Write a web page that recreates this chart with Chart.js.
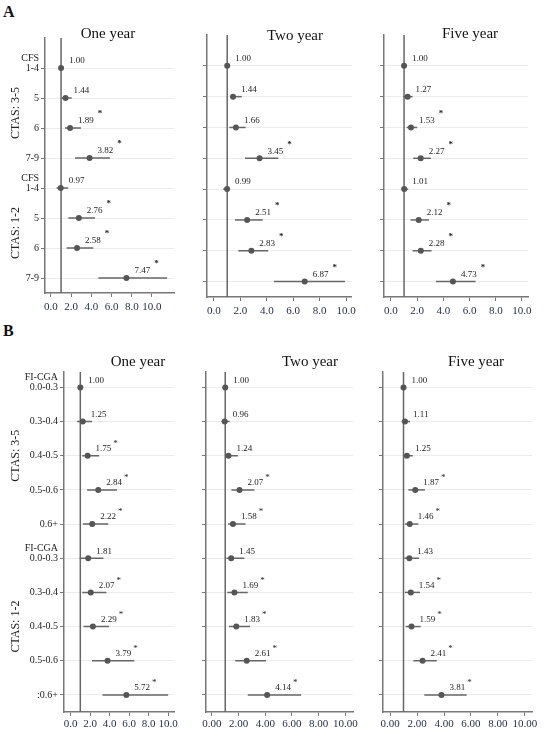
<!DOCTYPE html>
<html>
<head>
<meta charset="utf-8">
<script src="https://cdn.jsdelivr.net/npm/chart.js@4.4.1/dist/chart.umd.min.js"></script>
<style>
body { margin: 0; background: #fff; }
#wrap { position: relative; width: 554px; height: 749px; overflow: hidden; font-family: "Liberation Serif", "Times New Roman", serif; }
canvas { position: absolute; }
.tag { position: absolute; font-weight: bold; font-size: 16px; color: #111; }
</style>
</head>
<body>
<div id="wrap">
  <div class="tag" style="left:3px;top:3px">A</div>
  <div class="tag" style="left:3px;top:322px">B</div>
</div>
<script>
// row labels
const cfsLabels = ["1-4", "5", "6", "7-9", "1-4", "5", "6", "7-9"];
const cfsHeads = ["CFS", "", "", "", "CFS", "", "", ""];
const fiLabels = ["0.0-0.3", "0.3-0.4", "0.4-0.5", "0.5-0.6", "0.6+", "0.0-0.3", "0.3-0.4", "0.4-0.5", "0.5-0.6", ":0.6+"];
const fiHeads = ["FI-CGA", "", "", "", "", "FI-CGA", "", "", "", ""];
const groupNames = ["CTAS: 3-5", "CTAS: 1-2"];
const cfsGroupRows = [[0, 3], [4, 7]];
const fiGroupRows = [[0, 4], [5, 9]];
const periods = ["One year", "Two year", "Five year"];
const xTicks = [0, 2, 4, 6, 8, 10];

// A: CFS, odds ratios with 95% CI
const cfs1Or = [1.00, 1.44, 1.89, 3.82, 0.97, 2.76, 2.58, 7.47];
const cfs1Lo = [1.00, 1.06, 1.39, 2.38, 0.56, 1.72, 1.55, 4.69];
const cfs1Hi = [1.00, 2.05, 2.97, 5.84, 1.71, 4.36, 4.19, 11.50];
const cfs1Sig = [0, 0, 1, 1, 0, 1, 1, 1];

const cfs2Or = [1.00, 1.44, 1.66, 3.45, 0.99, 2.51, 2.83, 6.87];
const cfs2Lo = [1.00, 1.21, 1.16, 2.35, 0.70, 1.59, 1.84, 4.55];
const cfs2Hi = [1.00, 2.10, 2.40, 4.87, 1.21, 3.69, 4.11, 9.92];
const cfs2Sig = [0, 0, 0, 1, 0, 1, 1, 1];

const cfs5Or = [1.00, 1.27, 1.53, 2.27, 1.01, 2.12, 2.28, 4.73];
const cfs5Lo = [1.00, 0.94, 1.20, 1.70, 0.82, 1.50, 1.65, 3.43];
const cfs5Hi = [1.00, 1.65, 2.00, 3.05, 1.32, 2.90, 3.10, 6.46];
const cfs5Sig = [0, 0, 1, 1, 0, 1, 1, 1];

// B: FI-CGA
const fi1Or = [1.00, 1.25, 1.75, 2.84, 2.22, 1.81, 2.07, 2.29, 3.79, 5.72];
const fi1Lo = [1.00, 0.67, 1.20, 1.70, 1.27, 0.93, 1.20, 1.33, 2.20, 3.27];
const fi1Hi = [1.00, 2.20, 2.93, 4.77, 3.87, 3.37, 3.67, 3.93, 6.53, 10.00];
const fi1Sig = [0, 0, 1, 1, 1, 0, 1, 1, 1, 1];

const fi2Or = [1.00, 0.96, 1.24, 2.07, 1.58, 1.45, 1.69, 1.83, 2.61, 4.14];
const fi2Lo = [1.00, 0.72, 1.04, 1.46, 1.21, 1.09, 1.16, 1.28, 1.75, 2.69];
const fi2Hi = [1.00, 1.33, 1.95, 3.19, 2.52, 2.44, 2.69, 2.86, 4.05, 6.69];
const fi2Sig = [0, 0, 0, 1, 1, 0, 1, 1, 1, 1];

const fi5Or = [1.00, 1.11, 1.25, 1.87, 1.46, 1.43, 1.54, 1.59, 2.41, 3.81];
const fi5Lo = [1.00, 0.86, 0.99, 1.36, 1.11, 1.06, 1.11, 1.16, 1.73, 2.54];
const fi5Hi = [1.00, 1.48, 1.68, 2.59, 2.10, 2.15, 2.22, 2.27, 3.46, 5.68];
const fi5Sig = [0, 0, 0, 1, 1, 0, 1, 1, 1, 1];

const FONT = "'Liberation Serif', 'Times New Roman', serif";

// panel boxes: canvas [left, top, w, h], plot area [l, t, r, b] in page px
const panels = [
  { box: [0, 0, 180, 320], area: [45, 38, 174, 293], x: [-0.59, 12.18], y: [-1, 7.5], dec: 1, title: [108, 34], period: 0,
    labels: cfsLabels, heads: cfsHeads, groups: cfsGroupRows, or: cfs1Or, lo: cfs1Lo, hi: cfs1Hi, sig: cfs1Sig, first: true, starBold: true },
  { box: [180, 0, 180, 320], area: [207, 35, 352, 297], x: [-0.53, 10.45], y: [-1, 7.5], dec: 1, title: [295, 36], period: 1,
    labels: cfsLabels, heads: cfsHeads, groups: cfsGroupRows, or: cfs2Or, lo: cfs2Lo, hi: cfs2Hi, sig: cfs2Sig, first: false, starBold: true },
  { box: [360, 0, 194, 320], area: [384, 35, 528, 297], x: [-0.53, 10.46], y: [-1, 7.5], dec: 1, title: [470, 34], period: 2,
    labels: cfsLabels, heads: cfsHeads, groups: cfsGroupRows, or: cfs5Or, lo: cfs5Lo, hi: cfs5Hi, sig: cfs5Sig, first: false, starBold: true },
  { box: [0, 340, 180, 409], area: [64, 372, 177, 712], x: [-0.67, 10.63], y: [-0.45, 9.5], dec: 1, title: [138, 362], period: 0,
    labels: fiLabels, heads: fiHeads, groups: fiGroupRows, or: fi1Or, lo: fi1Lo, hi: fi1Hi, sig: fi1Sig, first: true, starBold: false },
  { box: [180, 340, 180, 409], area: [206, 372, 355, 712], x: [-0.44, 10.59], y: [-0.45, 9.5], dec: 2, title: [310, 362], period: 1,
    labels: fiLabels, heads: fiHeads, groups: fiGroupRows, or: fi2Or, lo: fi2Lo, hi: fi2Hi, sig: fi2Sig, first: false, starBold: false },
  { box: [360, 340, 194, 409], area: [383, 372, 532, 712], x: [-0.52, 10.52], y: [-0.45, 9.5], dec: 2, title: [476, 362], period: 2,
    labels: fiLabels, heads: fiHeads, groups: fiGroupRows, or: fi5Or, lo: fi5Lo, hi: fi5Hi, sig: fi5Sig, first: false, starBold: false }
];

const textPlugin = {
  id: "forestText",
  afterDatasetsDraw(chart, args, opts) {
    const p = opts.panel;
    const ctx = chart.ctx;
    const xs = chart.scales.x, ys = chart.scales.y;
    const L = p.box[0], T = p.box[1];
    ctx.save();
    // title
    ctx.fillStyle = "#111";
    ctx.font = "15px " + FONT;
    ctx.textAlign = "center";
    ctx.textBaseline = "middle";
    ctx.fillText(periods[p.period], p.title[0] - L, p.title[1] - T);
    // value labels and stars
    ctx.textAlign = "left";
    p.or.forEach((v, i) => {
      const px = xs.getPixelForValue(v) + 8;
      const py = ys.getPixelForValue(i) - 7;
      const s = v.toFixed(2);
      ctx.fillStyle = "#222";
      ctx.font = "9px " + FONT;
      ctx.fillText(s, px, py);
      if (p.sig[i]) {
        const w = ctx.measureText(s).width;
        ctx.font = (p.starBold ? "bold " : "") + "9px " + FONT;
        ctx.fillText("*", px + w + (p.starBold ? 4 : 2), py - (p.starBold ? 7 : 5));
      }
    });
    if (p.first) {
      // header over the first row of each group
      ctx.font = "10px " + FONT;
      ctx.textAlign = "right";
      ctx.fillStyle = "#222";
      const rx = chart.chartArea.left - 6;
      p.heads.forEach((h, i) => {
        if (h) ctx.fillText(h, rx, ys.getPixelForValue(i) - 10);
      });
      // rotated group names
      ctx.font = "12px " + FONT;
      ctx.textAlign = "center";
      p.groups.forEach((g, k) => {
        const cy = ys.getPixelForValue((g[0] + g[1]) / 2);
        ctx.save();
        ctx.translate(16, cy);
        ctx.rotate(-Math.PI / 2);
        ctx.fillText(groupNames[k], 0, 0);
        ctx.restore();
      });
    }
    ctx.restore();
  }
};

const wrap = document.getElementById("wrap");

panels.forEach(p => {
  const cv = document.createElement("canvas");
  cv.width = p.box[2];
  cv.height = p.box[3];
  cv.style.left = p.box[0] + "px";
  cv.style.top = p.box[1] + "px";
  cv.style.width = p.box[2] + "px";
  cv.style.height = p.box[3] + "px";
  wrap.appendChild(cv);

  const datasets = [];
  // points first so they sit on top
  datasets.push({
    data: p.or.map((v, i) => ({ x: v, y: i })),
    pointRadius: 3,
    pointBackgroundColor: "#555",
    pointBorderWidth: 0,
    showLine: false
  });
  p.or.forEach((v, i) => {
    if (p.lo[i] === p.hi[i]) return;
    datasets.push({
      data: [{ x: p.lo[i], y: i }, { x: p.hi[i], y: i }],
      showLine: true,
      borderColor: "#666",
      borderWidth: 1.5,
      pointRadius: 0
    });
  });
  // reference line at OR = 1
  datasets.push({
    data: [{ x: 1, y: p.y[0] }, { x: 1, y: p.y[1] }],
    showLine: true,
    borderColor: "#666",
    borderWidth: 1.5,
    pointRadius: 0
  });

  const yw = p.area[0] - p.box[0];
  const xh = p.box[1] + p.box[3] - p.area[3];

  new Chart(cv, {
    type: "scatter",
    data: { datasets: datasets },
    options: {
      responsive: false,
      animation: false,
      devicePixelRatio: 1,
      layout: {
        padding: {
          top: p.area[1] - p.box[1],
          right: p.box[0] + p.box[2] - p.area[2],
          left: 0,
          bottom: 0
        }
      },
      plugins: {
        legend: { display: false },
        tooltip: { enabled: false },
        forestText: { panel: p }
      },
      scales: {
        x: {
          type: "linear",
          min: p.x[0],
          max: p.x[1],
          afterBuildTicks: s => { s.ticks = xTicks.map(v => ({ value: v })); },
          afterFit: s => { s.height = xh; },
          border: { color: "#777", width: 1.5 },
          grid: { drawOnChartArea: false, drawTicks: true, tickLength: 4, tickColor: "#777" },
          ticks: {
            color: "#1f2a44",
            font: { family: FONT, size: 11 },
            padding: p.box[1] === 0 ? 4 : 2,
            maxRotation: 0,
            callback: v => Number(v).toFixed(p.dec)
          }
        },
        y: {
          type: "linear",
          reverse: true,
          min: p.y[0],
          max: p.y[1],
          afterBuildTicks: s => { s.ticks = p.labels.map((_, i) => ({ value: i })); },
          afterFit: s => { s.width = yw; },
          border: { color: "#777", width: 1.5 },
          grid: { color: "#ececec", lineWidth: 1, drawTicks: true, tickLength: 4, tickColor: "#777" },
          ticks: {
            display: p.first,
            color: "#222",
            font: { family: FONT, size: 10 },
            padding: 2,
            callback: v => p.labels[v] ?? ""
          }
        }
      }
    },
    plugins: [textPlugin]
  });
});
</script>
</body>
</html>
